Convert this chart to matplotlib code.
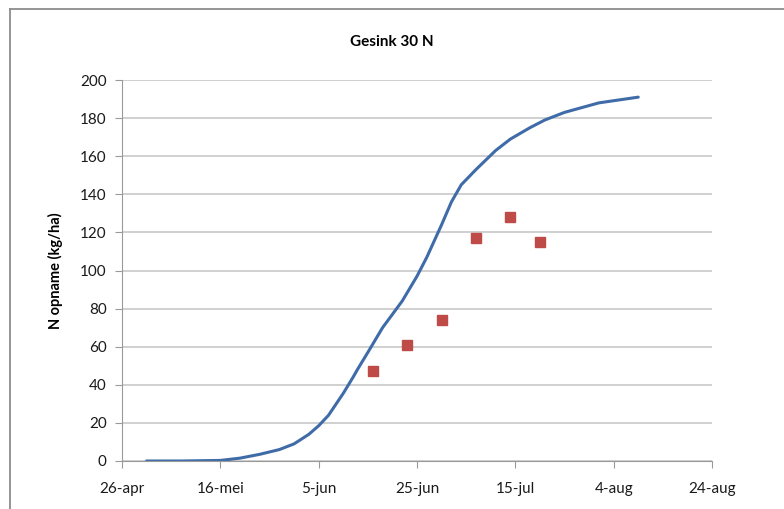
import pandas as pd
import matplotlib.pyplot as plt
from matplotlib.lines import Line2D

# model curve (N uptake, kg/ha)
curve_dates = ['2013-05-01', '2013-05-08', '2013-05-16', '2013-05-20', '2013-05-24',
               '2013-05-28', '2013-05-31', '2013-06-03', '2013-06-05', '2013-06-07',
               '2013-06-10', '2013-06-12', '2013-06-13', '2013-06-15', '2013-06-18',
               '2013-06-20', '2013-06-22', '2013-06-25', '2013-06-27', '2013-06-30',
               '2013-07-02', '2013-07-04', '2013-07-07', '2013-07-11', '2013-07-14',
               '2013-07-18', '2013-07-21', '2013-07-25', '2013-08-01', '2013-08-09']
curve_values = [0, 0, 0.3, 1.5, 3.5,
                6, 9, 14, 18.5, 24,
                35.5, 44, 48.5, 57, 70,
                77, 84, 97, 107, 124,
                136, 145, 153, 163, 169,
                175, 179, 183, 188, 191]

# measured points
meas_dates = ['2013-06-16', '2013-06-23', '2013-06-30', '2013-07-07', '2013-07-14', '2013-07-20']
meas_values = [47, 61, 74, 117, 128, 115]

tick_dates = ['2013-04-26', '2013-05-16', '2013-06-05', '2013-06-25',
              '2013-07-15', '2013-08-04', '2013-08-24']
tick_labels = ['26-apr', '16-mei', '5-jun', '25-jun', '15-jul', '4-aug', '24-aug']

plt.rcParams['font.family'] = ['Lato', 'DejaVu Sans']

fig = plt.figure(figsize=(7.84, 5.09), dpi=100)
# chart frame (only top and left edges are visible in the crop)
y_top = 1 - 9 / 509
fig.lines.append(Line2D([10 / 784, 1.0], [y_top, y_top], transform=fig.transFigure,
                        color='#8c8c8c', linewidth=1.3))
fig.lines.append(Line2D([10 / 784, 10 / 784], [0, y_top], transform=fig.transFigure,
                        color='#8c8c8c', linewidth=1.3))

ax = fig.add_axes([122 / 784, 48 / 509, 590 / 784, 381 / 509])
ax.plot(pd.to_datetime(curve_dates), curve_values, color='#3F6CA8', linewidth=2.2,
        solid_joinstyle='round', solid_capstyle='round')
ax.plot(pd.to_datetime(meas_dates), meas_values, linestyle='none', marker='s',
        markersize=7, color='#BE4B48')

ax.set_xlim(pd.Timestamp(tick_dates[0]), pd.Timestamp(tick_dates[-1]))
ax.set_ylim(0, 200)
ax.set_yticks(range(0, 201, 20))
ax.set_xticks(pd.to_datetime(tick_dates))
ax.set_xticklabels(tick_labels)
ax.grid(axis='y', color='#c4c4c4', linewidth=1.1)
ax.set_axisbelow(True)

for s in ['top', 'right']:
    ax.spines[s].set_visible(False)
for s in ['left', 'bottom']:
    ax.spines[s].set_color('#9a9a9a')
ax.tick_params(axis='both', colors='#9a9a9a', labelcolor='#1a1a1a',
               labelsize=11, length=5)
ax.tick_params(axis='x', pad=10)
ax.tick_params(axis='y', pad=6)

ax.set_ylabel('N opname (kg/ha)', fontsize=10.5, fontweight='bold', labelpad=12)
fig.text(0.5, 1 - 42 / 509, 'Gesink 30 N', ha='center', va='center',
         fontsize=11, fontweight='bold')

fig.savefig('out.png', dpi=100)
